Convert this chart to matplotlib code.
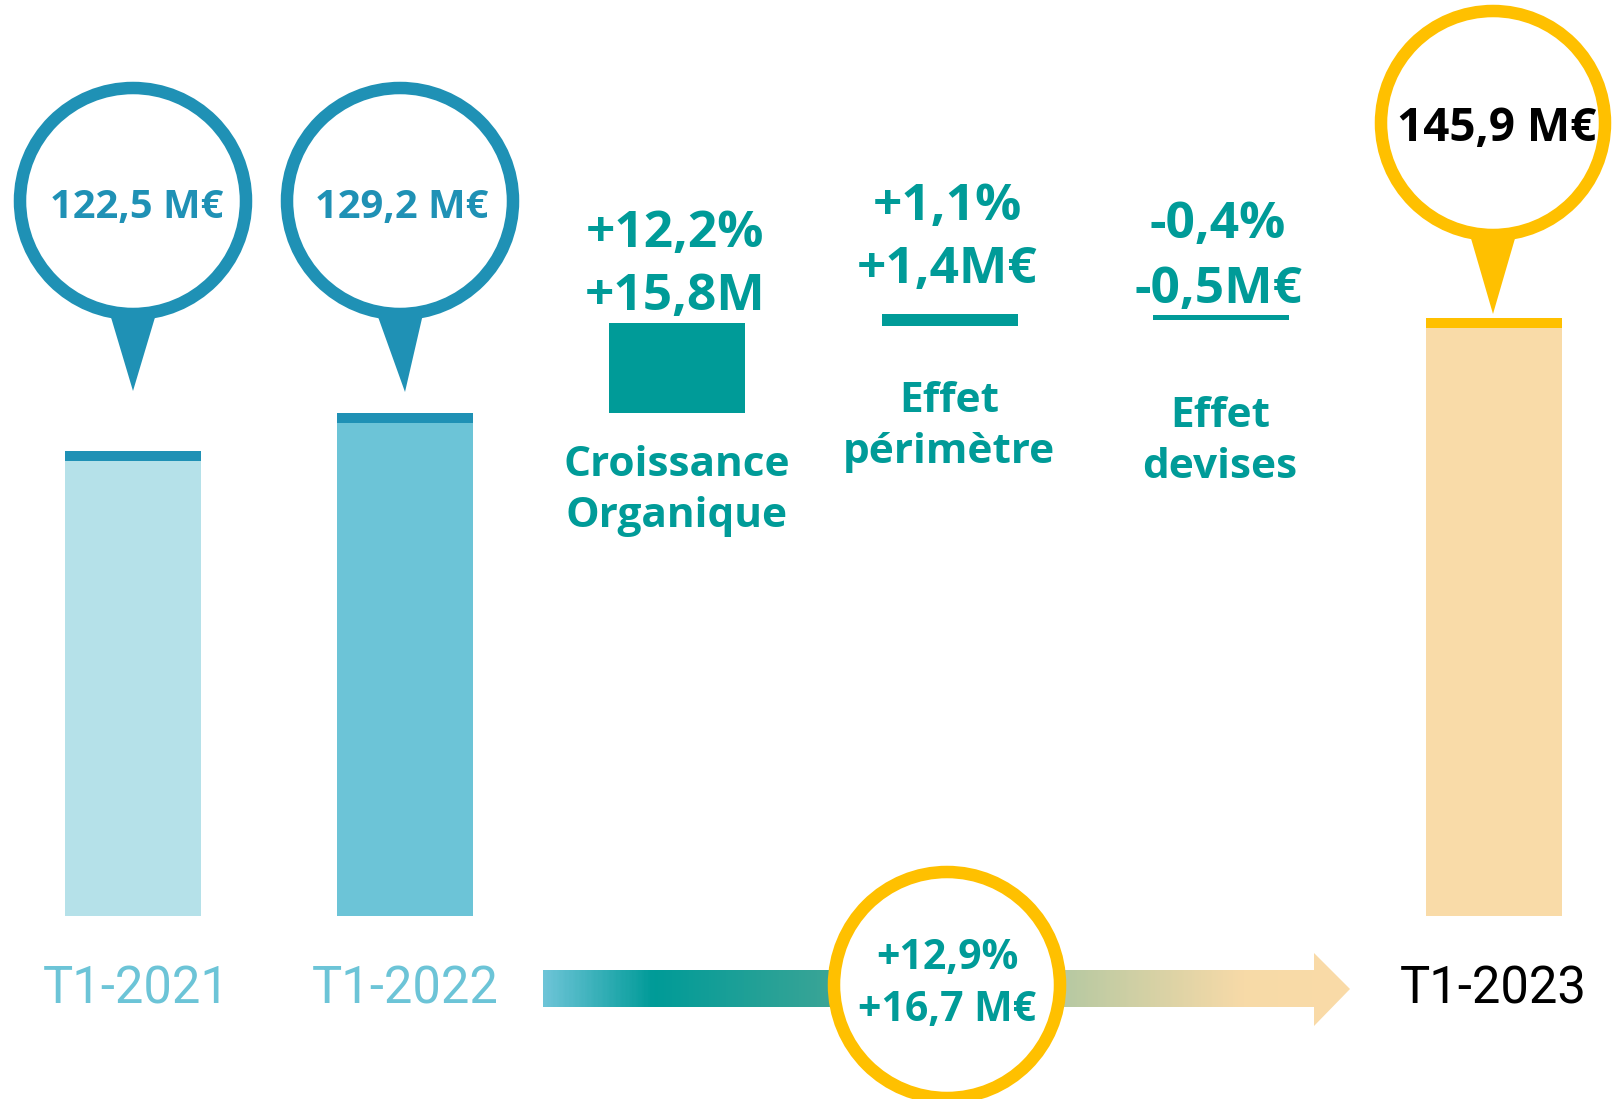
import matplotlib
matplotlib.use('Agg')
import matplotlib.pyplot as plt
from matplotlib.patches import Circle, Polygon
from matplotlib.colors import LinearSegmentedColormap
import numpy as np

# --- data -------------------------------------------------------------
periods = ['T1-2021', 'T1-2022', 'T1-2023']
revenue = [122.5, 129.2, 145.9]                      # M€
bridge_names = ['Croissance\nOrganique', 'Effet\npérimètre', 'Effet\ndevises']
bridge_pct = [12.2, 1.1, -0.4]
bridge_amount = [15.8, 1.4, -0.5]
bridge_units = ['M', 'M€', 'M€']
total_pct = 12.9
total_amount = 16.7

# --- layout (pixels) --------------------------------------------------
W, H = 1612, 1099
base_val, base_px, ppu = 40.5, 916, 5.67            # truncated value axis
period_x = [133, 405, 1494]
bridge_x = [677, 949, 1220]
bar_w = 136

BLUE = '#1F91B5'
TEAL = '#009B98'
GOLD = '#FFC000'
period_fill = ['#B5E1E9', '#6CC4D7', '#F9DBA8']
period_cap = [BLUE, BLUE, GOLD]
period_text = ['#6CC4D7', '#6CC4D7', 'black']

BOLD = dict(family=['Open Sans', 'DejaVu Sans'], weight='bold')
THIN = dict(family=['Roboto', 'DejaVu Sans'], weight='normal')


def fr(v, signed=True):
    s = f'{v:+.1f}' if signed else f'{v:.1f}'
    return s.replace('.', ',')


fig = plt.figure(figsize=(W / 100, H / 100), dpi=100)

# bars, in value units
ax = fig.add_axes([0, 0, 1, 1])
ax.set_xlim(0, W)
ax.set_ylim(base_val - (H - base_px) / ppu, base_val + base_px / ppu)
ax.axis('off')

cap = 10 / ppu
for x, v, fc, cc in zip(period_x, revenue, period_fill, period_cap):
    ax.bar(x, v - base_val, bottom=base_val, width=bar_w, color=fc, linewidth=0)
    ax.bar(x, cap, bottom=v - cap, width=bar_w, color=cc, linewidth=0)

level = revenue[1]
edge_px = [0, 5, 3]
for x, d, lw in zip(bridge_x, bridge_amount, edge_px):
    ax.bar(x, abs(d), bottom=min(level, level + d), width=bar_w - lw,
           color=TEAL, edgecolor=TEAL, linewidth=lw * 0.72)
    level += d

# decorations, in pixel units
ov = fig.add_axes([0, 0, 1, 1])
ov.set_xlim(0, W)
ov.set_ylim(H, 0)
ov.axis('off')
ov.patch.set_alpha(0)


def callout(cx, cy, r, color, tip=None, half=23):
    if tip is not None:
        ov.add_patch(Polygon([(cx - half, cy + r), (cx + half, cy + r), tip],
                             closed=True, color=color, zorder=2, lw=0))
    ov.add_patch(Circle((cx, cy), r, facecolor='white', edgecolor=color,
                        linewidth=12.5 * 0.72, zorder=3))


# gradient arrow along the bottom
arrow = Polygon([(543, 970), (1314, 970), (1314, 953), (1350, 989),
                 (1314, 1026), (1314, 1007), (543, 1007)],
                closed=True, facecolor='none', edgecolor='none')
ov.add_patch(arrow)
cmap = LinearSegmentedColormap.from_list('arrow', [
    (0.0, '#6CC4D7'), (0.135, '#009B98'), (0.36, '#3CA596'),
    (0.65, '#B7C9A2'), (0.87, '#F7DAA8'), (1.0, '#FADBA7')])
grad = np.linspace(0, 1, 400).reshape(1, -1)
img = ov.imshow(grad, cmap=cmap, extent=(543, 1350, 1026, 953),
                aspect='auto', zorder=1)
img.set_clip_path(arrow)
ov.set_xlim(0, W)
ov.set_ylim(H, 0)

# value callouts
callout(133, 201, 113, BLUE, tip=(133, 391))
callout(400, 201, 113, BLUE, tip=(405, 392))
callout(1493, 123, 112, GOLD, tip=(1493, 314))
callout(947, 985, 113, GOLD)

label_xy = [(137, 218), (402, 218), (1497, 141)]
label_size = [28.7, 28.7, 33]
label_color = [BLUE, BLUE, 'black']
for v, (x, y), s, c in zip(revenue, label_xy, label_size, label_color):
    ov.text(x, y, f'{fr(v, False)} M€', ha='center', va='baseline',
            fontsize=s, color=c, zorder=4, **BOLD)

# period labels
for x, p, c in zip([136, 405, 1493], periods, period_text):
    ov.text(x, 1004, p, ha='center', va='baseline', fontsize=36.5, color=c,
            zorder=4, **THIN)

# bridge labels
pct_base = [247, 220, 238]
amt_base = [310, 283, 303]
name_base = [476, 412, 427]
for x, p, a, u, n, yp, ya, yn in zip(bridge_x, bridge_pct, bridge_amount,
                                      bridge_units, bridge_names,
                                      pct_base, amt_base, name_base):
    ov.text(x - 2, yp, f'{fr(p)}%', ha='center', va='baseline', fontsize=37,
            color=TEAL, zorder=4, **BOLD)
    ov.text(x - 2, ya, f'{fr(a)}{u}', ha='center', va='baseline', fontsize=37,
            color=TEAL, zorder=4, **BOLD)
    for k, line in enumerate(n.split('\n')):
        ov.text(x, yn + k * 51, line, ha='center', va='baseline',
                fontsize=30.5, color=TEAL, zorder=4, **BOLD)

# total growth
ov.text(947, 969, f'{fr(total_pct)}%', ha='center', va='baseline',
        fontsize=29.5, color=TEAL, zorder=4, **BOLD)
ov.text(947, 1021, f'{fr(total_amount)} M€', ha='center', va='baseline',
        fontsize=29.5, color=TEAL, zorder=4, **BOLD)

fig.savefig('out.png', dpi=100)
